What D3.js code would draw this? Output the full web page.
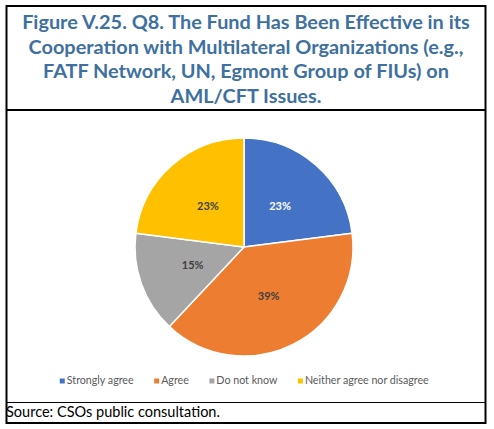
<!DOCTYPE html>
<html>
<head>
<meta charset="utf-8">
<script src="https://cdn.jsdelivr.net/npm/d3@7"></script>
<style>
  html, body { margin: 0; padding: 0; background: #fff; }
  svg { display: block; }
</style>
</head>
<body>
<svg id="chart" width="494" height="429"></svg>
<script>
const titleLines = [
  "Figure V.25. Q8. The Fund Has Been Effective in its",
  "Cooperation with Multilateral Organizations (e.g.,",
  "FATF Network, UN, Egmont Group of FIUs) on",
  "AML/CFT Issues."
];
const categories = ["Strongly agree", "Agree", "Do not know", "Neither agree nor disagree"];
const values = [23, 39, 15, 23];
const colors = ["#4472C4", "#ED7D31", "#A5A5A5", "#FFC000"];
const labelColors = ["#ffffff", "#404040", "#404040", "#404040"];
const sourceText = "Source: CSOs public consultation.";

const svg = d3.select("#chart");
const FONT = "Lato, 'Open Sans', sans-serif";

// frame
const frame = {x0: 6.5, y0: 6, x1: 485.5, y1: 423, titleSep: 110, sourceSep: 402.5};
svg.append("rect")
  .attr("x", frame.x0).attr("y", frame.y0)
  .attr("width", frame.x1 - frame.x0).attr("height", frame.y1 - frame.y0)
  .attr("fill", "none").attr("stroke", "#000").attr("stroke-width", 2);
svg.append("line")
  .attr("x1", frame.x0).attr("x2", frame.x1)
  .attr("y1", frame.titleSep).attr("y2", frame.titleSep)
  .attr("stroke", "#000").attr("stroke-width", 2);
svg.append("line")
  .attr("x1", frame.x0).attr("x2", frame.x1)
  .attr("y1", frame.sourceSep).attr("y2", frame.sourceSep)
  .attr("stroke", "#000").attr("stroke-width", 1);

// title
const title = svg.append("g");
const tLines = title.selectAll("text").data(titleLines).join("text")
  .attr("x", 246)
  .attr("y", (d, i) => 29 + i * 24.5)
  .attr("text-anchor", "middle")
  .attr("font-family", FONT)
  .attr("font-weight", "bold")
  .attr("font-size", 18)
  .attr("fill", "#3E70A0")
  .text(d => d);
{
  const w = tLines.node().getComputedTextLength();
  tLines.attr("font-size", 18 * 448 / w);
}

// pie
const cx = 244, cy = 247, R = 109;
const pie = d3.pie().sort(null).value(d => d.v);
const arcs = pie(values.map((v, i) => ({v, i})));
const arc = d3.arc().innerRadius(0).outerRadius(R);
const labelArc = d3.arc().innerRadius(R * 0.5).outerRadius(R * 0.5);
const g = svg.append("g").attr("transform", `translate(${cx},${cy})`);
g.selectAll("path").data(arcs).join("path")
  .attr("d", arc)
  .attr("fill", d => colors[d.data.i])
  .attr("stroke", "#fff")
  .attr("stroke-width", 1.5)
  .attr("stroke-linejoin", "round");
g.selectAll("text").data(arcs).join("text")
  .attr("transform", d => `translate(${labelArc.centroid(d)})`)
  .attr("text-anchor", "middle")
  .attr("dy", "0.36em")
  .attr("font-family", FONT)
  .attr("font-weight", "bold")
  .attr("font-size", 11)
  .attr("fill", d => labelColors[d.data.i])
  .text(d => d.data.v + "%");

// legend
const legend = svg.append("g");
const items = legend.selectAll("g").data(categories).join("g");
items.append("rect")
  .attr("width", 5).attr("height", 5)
  .attr("y", -5)
  .attr("fill", (d, i) => colors[i]);
const ltexts = items.append("text")
  .attr("x", 7)
  .attr("font-family", FONT)
  .attr("font-size", 10.5)
  .attr("fill", "#595959")
  .text(d => d);
{
  const w0 = ltexts.node().getComputedTextLength();
  ltexts.attr("font-size", 10.5 * 67 / w0);
}
{
  let x = 0;
  const positions = [];
  ltexts.each(function() {
    positions.push(x);
    x += 9.5 + this.getComputedTextLength() + 18;
  });
  const totalW = x - 18;
  const startX = 245.5 - totalW / 2;
  items.attr("transform", (d, i) => `translate(${startX + positions[i]},${383.5})`);
}

// source
const src = svg.append("text")
  .attr("x", 6)
  .attr("y", 417)
  .attr("font-family", FONT)
  .attr("font-size", 14)
  .attr("fill", "#000")
  .text(sourceText);
{
  const w = src.node().getComputedTextLength();
  src.attr("font-size", 14 * 214 / w);
}
</script>
</body>
</html>
